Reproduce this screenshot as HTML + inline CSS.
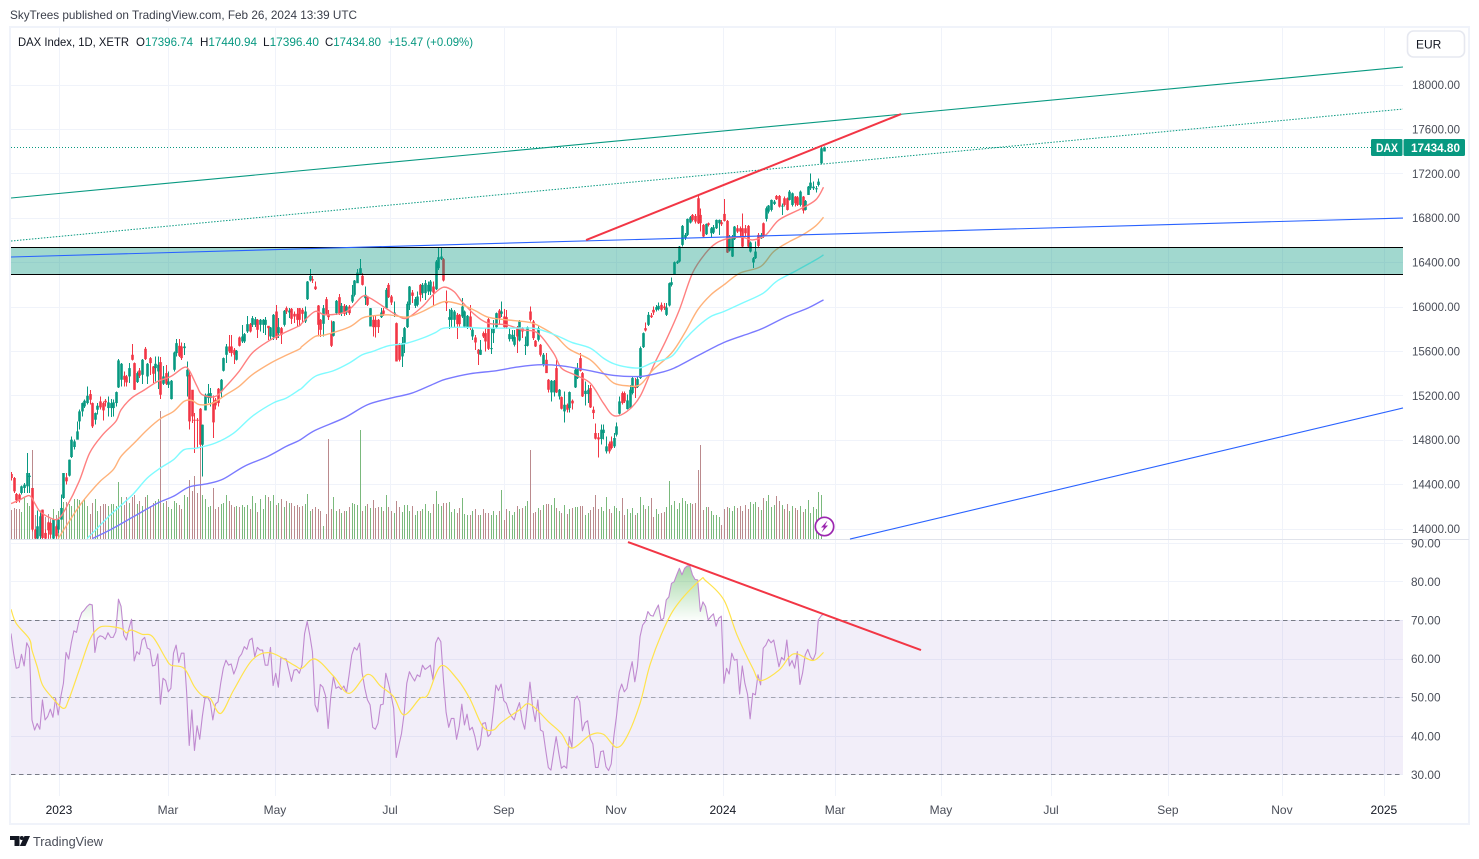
<!DOCTYPE html>
<html lang="en">
<head>
<meta charset="utf-8">
<title>DAX Index, 1D, XETR</title>
<style>
html,body{margin:0;padding:0;background:#fff;width:1479px;height:859px;overflow:hidden}
svg{display:block;font-family:"Liberation Sans",sans-serif}
text{font-family:"Liberation Sans",sans-serif}
</style>
</head>
<body>
<svg id="chart" xmlns="http://www.w3.org/2000/svg" width="1479" height="859" viewBox="0 0 1479 859">
  <defs>
    <clipPath id="mainClip"><rect x="11" y="28" width="1392" height="511"/></clipPath>
    <clipPath id="rsiClip"><rect x="11" y="540" width="1392" height="256"/></clipPath>
    <clipPath id="overClip"><rect x="11" y="540" width="1392" height="80"/></clipPath>
    <linearGradient id="overGrad" gradientUnits="userSpaceOnUse" x1="0" y1="566" x2="0" y2="620">
      <stop offset="0" stop-color="#4caf50" stop-opacity="0.5"/>
      <stop offset="1" stop-color="#4caf50" stop-opacity="0.02"/>
    </linearGradient>
  </defs>
  <rect x="0" y="0" width="1479" height="859" fill="#ffffff"/>
  <text x="10" y="19" font-size="12" fill="#3a3e4a" textLength="347" lengthAdjust="spacingAndGlyphs">SkyTrees published on TradingView.com, Feb 26, 2024 13:39 UTC</text>
  <rect x="10" y="27" width="1459" height="797" fill="none" stroke="#f0f3fa" stroke-width="2"/>
  <g id="gridLayer"></g>
  <g id="rsiBandLayer"></g>
  <g id="mainLayer" clip-path="url(#mainClip)"></g>
  <g id="rsiLayer" clip-path="url(#rsiClip)"></g>
  <line x1="10" y1="539.5" x2="1469" y2="539.5" stroke="#e0e3eb" stroke-width="1"/>
  <g id="overlayLayer"></g>
  <g id="axisLayer"></g>

  <text x="18" y="46" font-size="12" fill="#131722" textLength="111" lengthAdjust="spacingAndGlyphs">DAX Index, 1D, XETR</text>
  <g font-size="12">
    <text x="136" y="46" fill="#131722" textLength="57" lengthAdjust="spacingAndGlyphs">O<tspan fill="#089981">17396.74</tspan></text>
    <text x="200" y="46" fill="#131722" textLength="57" lengthAdjust="spacingAndGlyphs">H<tspan fill="#089981">17440.94</tspan></text>
    <text x="263" y="46" fill="#131722" textLength="56" lengthAdjust="spacingAndGlyphs">L<tspan fill="#089981">17396.40</tspan></text>
    <text x="325" y="46" fill="#131722" textLength="56" lengthAdjust="spacingAndGlyphs">C<tspan fill="#089981">17434.80</tspan></text>
    <text x="388" y="46" fill="#089981" textLength="85" lengthAdjust="spacingAndGlyphs">+15.47 (+0.09%)</text>
  </g>

  <rect x="1407.5" y="31" width="57" height="26" rx="6" fill="#ffffff" stroke="#e6e8f0" stroke-width="1.6"/>
  <text x="1416" y="48.5" font-size="12" fill="#131722">EUR</text>

  <g>
    <rect x="1371" y="139" width="31.5" height="17" rx="1.5" fill="#089981"/>
    <text x="1376" y="152" font-size="12" font-weight="bold" fill="#ffffff" textLength="22" lengthAdjust="spacingAndGlyphs">DAX</text>
    <rect x="1403.5" y="139" width="61.5" height="17" rx="1.5" fill="#089981"/>
    <text x="1411" y="152" font-size="12" font-weight="bold" fill="#ffffff" textLength="49" lengthAdjust="spacingAndGlyphs">17434.80</text>
  </g>

  <g>
    <circle cx="824.5" cy="526.5" r="9.2" fill="#ffffff" stroke="#9c27b0" stroke-width="1.7"/>
    <polygon points="827.5,520.5 821,527.5 824,527.5 821.5,532.5 828,525.5 825,525.5" fill="#9c27b0"/>
  </g>

  <g>
    <polygon points="10,836 19.5,836 19.5,846 14.5,846 14.5,840 10,840" fill="#131722"/>
    <circle cx="21.8" cy="838" r="2" fill="#131722"/>
    <polygon points="24.5,836 30,836 25.5,846 19.8,846" fill="#131722"/>
    <text x="33" y="846" font-size="13" fill="#4a4e59" textLength="70" lengthAdjust="spacingAndGlyphs">TradingView</text>
  </g>
</svg>

<script>
const candleOpen = [
14491,14455,14311,14305,14320,14365,14380,14464,14365,13990,
13909,13930,14170,13960,14056,14050,13909,14020,13990,14080,
14275,14461,14476,14644,14734,14800,14965,15055,15100,15130,
15211,15130,14980,15070,15145,15130,15151,15085,15085,15085,
15130,15271,15340,15376,15370,15370,15565,15490,15319,15424,
15385,15619,15370,15535,15460,15445,15415,15499,15304,15400,
15295,15166,15430,15580,15646,15640,15625,15370,15385,15250,
14980,14980,15079,14755,15064,15175,15175,15139,15160,15259,
15235,15421,15565,15640,15640,15610,15520,15721,15685,15685,
15775,15841,15835,15835,15880,15835,15835,15835,15826,15730,
15724,15955,15760,15805,15835,15985,15946,15979,15934,15934,
15985,15970,15865,16066,16234,16246,16180,16009,15880,15844,
16066,15934,15760,15736,15940,16084,15940,16006,15946,16000,
16045,16105,16210,16291,16276,16075,16084,15820,15880,15880,
15880,15904,15964,15985,16195,16090,15934,15850,15655,15550,
15670,15814,16015,16126,16006,16015,16195,16120,16120,16135,
16135,16180,16156,16345,16426,16426,16045,15880,15880,15880,
15925,15925,15910,15820,15814,15910,15730,15721,15610,15565,
15760,15760,15886,15619,15760,15814,15964,15934,15910,15904,
15706,15706,15655,15814,15694,15805,15646,15646,15955,15865,
15691,15700,15655,15475,15520,15340,15226,15226,15445,15190,
15184,15055,15115,15085,15151,15271,15355,15535,15400,15211,
15211,15265,15070,14860,14821,14806,14860,14695,14764,14785,
14740,14845,15034,15220,15220,15076,15085,15220,15286,15274,
15355,15634,15805,15835,15919,15970,15970,15976,16015,16000,
15925,16009,16195,16291,16390,16405,16555,16615,16645,16756,
16825,16816,16975,16825,16735,16651,16750,16660,16666,16705,
16750,16759,16834,16771,16504,16450,16606,16705,16705,16705,
16705,16726,16495,16396,16435,16645,16615,16750,16789,16855,
16870,16924,16996,16996,16900,16975,16975,16960,16915,16990,
16984,16915,16990,16870,17005,17065,17065,17056,17095,17290,
17396.74];

const candleHigh = [
14509,14464,14320,14314,14386,14410,14680,14500,14365,13996,
14164,14164,14170,13990,14065,14065,14086,14035,14095,14305,
14500,14500,14620,14830,14800,14965,15070,15136,15160,15280,
15250,15136,15046,15130,15190,15145,15166,15190,15166,15160,
15235,15526,15490,15415,15385,15490,15664,15496,15415,15445,
15526,15634,15490,15544,15466,15550,15550,15544,15466,15475,
15415,15340,15595,15709,15706,15676,15670,15505,15430,15250,
15040,14995,15085,14935,15214,15304,15265,15196,15175,15265,
15346,15541,15664,15745,15745,15625,15610,15730,15835,15760,
15916,15850,15916,15904,15886,15889,15886,15904,15826,15814,
15934,16015,15895,15814,15970,16000,15985,15985,15955,15985,
15985,15985,16000,16231,16336,16276,16225,16015,15886,16015,
16084,15970,15874,15871,16060,16114,16030,16024,16015,16015,
16195,16240,16336,16429,16300,16180,16090,15985,15925,15916,
15886,15985,15985,16165,16210,16105,16045,15856,15670,15724,
15814,16045,16186,16150,16084,16135,16204,16210,16240,16225,
16240,16225,16420,16525,16525,16435,16144,15976,15985,15970,
15940,15934,16075,15964,15925,16015,15805,15745,15616,15700,
15775,15805,15895,15805,15880,15946,15976,16045,15979,15970,
15805,15790,15790,15826,15880,15814,15730,15820,16000,15880,
15700,15820,15664,15580,15580,15346,15340,15340,15520,15256,
15190,15235,15124,15235,15160,15445,15490,15580,15409,15325,
15295,15295,15100,14944,14860,14935,14935,14830,14785,14830,
14860,14956,15190,15235,15235,15205,15295,15364,15355,15364,
15640,15766,15856,15949,15940,16000,16015,16036,16036,16030,
16030,16216,16261,16405,16414,16546,16735,16660,16795,16816,
16834,16834,16996,16885,16744,16750,16756,16714,16735,16786,
16786,16780,16969,16780,16645,16645,16726,16735,16720,16840,
16735,16735,16585,16444,16585,16660,16660,16756,16900,16915,
16966,16960,17005,17005,16930,16990,16984,17050,17026,16996,
16996,17044,16996,16960,17086,17200,17125,17086,17155,17440,
17440.94];

const candleLow = [
14434,14320,14230,14236,14305,14320,14320,14320,13975,13900,
13900,13900,13900,13900,13909,13915,13900,13909,13960,14080,
14266,14395,14470,14635,14710,14800,14890,15010,15085,15115,
15115,14905,14935,15025,15070,14974,15100,15010,15004,15010,
15100,15265,15280,15280,15280,15310,15514,15250,15310,15355,
15304,15520,15304,15385,15310,15325,15256,15166,15295,15295,
15265,15160,15415,15550,15544,15520,15565,15190,14890,14950,
14680,14725,14710,14470,15064,15130,15100,14815,15070,15100,
15175,15415,15490,15580,15550,15484,15514,15640,15670,15670,
15760,15766,15814,15814,15715,15775,15760,15745,15700,15700,
15700,15700,15715,15664,15820,15934,15895,15844,15850,15820,
15820,15850,15850,16060,16225,16210,16150,15730,15724,15730,
15928,15880,15634,15730,15925,15925,15916,15916,15925,15925,
16030,16090,16210,16285,16189,16015,16006,15820,15730,15721,
15760,15895,15916,15976,16075,16015,15904,15505,15505,15454,
15580,15805,15970,16030,15985,16000,16045,16075,16060,16105,
16105,16006,16150,16330,16420,16225,15961,15796,15805,15805,
15709,15820,15895,15805,15796,15790,15700,15610,15475,15565,
15715,15595,15610,15574,15670,15805,15835,15904,15805,15796,
15685,15685,15640,15580,15685,15715,15565,15640,15865,15700,
15634,15685,15550,15460,15400,15226,15145,15190,15220,15160,
15070,14956,15046,15046,15070,15265,15346,15415,15184,15109,
15130,15085,14986,14800,14641,14755,14800,14674,14674,14710,
14725,14830,15025,15115,15130,15070,15076,15205,15175,15265,
15346,15625,15775,15826,15895,15925,15955,15964,15955,15970,
15916,16000,16180,16285,16384,16396,16540,16600,16636,16750,
16765,16750,16744,16675,16624,16645,16720,16624,16654,16696,
16645,16726,16765,16480,16495,16444,16600,16660,16630,16534,
16630,16525,16486,16345,16426,16525,16606,16615,16765,16840,
16855,16915,16960,16894,16825,16900,16864,16954,16900,16900,
16906,16900,16840,16864,17005,17050,17050,17026,17080,17284,
17396.40];

const candleClose = [
14455,14335,14254,14260,14380,14395,14500,14476,13990,13909,
14020,14110,13915,13909,13984,13945,14080,13930,14080,14185,
14500,14425,14620,14800,14785,14875,15055,15130,15151,15196,
15160,14920,15040,15106,15091,15064,15136,15136,15130,15136,
15229,15514,15484,15340,15316,15445,15520,15250,15400,15376,
15520,15526,15484,15490,15394,15484,15475,15205,15370,15304,
15325,15331,15586,15670,15556,15535,15640,15430,14965,15010,
14971,14971,14755,14935,15205,15214,15220,14956,15109,15130,
15340,15535,15640,15595,15580,15565,15601,15646,15730,15751,
15841,15775,15895,15886,15790,15880,15880,15880,15805,15811,
15925,15715,15814,15745,15961,15955,15964,15889,15910,15880,
15880,15934,15955,16225,16276,16234,16156,15835,15790,15985,
15934,15904,15646,15865,16051,15934,16006,15934,16000,15940,
16105,16234,16306,16345,16195,16105,16015,15985,15814,15814,
15814,15946,15934,16150,16084,16036,15946,15505,15520,15670,
15805,16024,16180,16096,16066,16090,16105,16195,16210,16195,
16225,16126,16405,16444,16450,16234,16030,15904,15970,15955,
15841,15841,16000,15955,15916,15814,15790,15676,15574,15610,
15730,15685,15619,15625,15805,15940,15895,15955,15814,15814,
15751,15745,15724,15730,15865,15775,15655,15814,15880,15715,
15640,15805,15565,15565,15400,15250,15331,15331,15226,15250,
15079,15115,15070,15229,15127,15430,15445,15421,15190,15241,
15250,15091,15040,14809,14803,14890,14890,14740,14695,14725,
14815,14920,15145,15130,15145,15154,15250,15355,15265,15346,
15625,15760,15784,15925,15904,15946,15994,16006,15970,15985,
15991,16210,16219,16399,16405,16540,16726,16645,16789,16804,
16780,16765,16750,16750,16630,16744,16735,16705,16714,16780,
16780,16741,16771,16486,16630,16615,16720,16675,16675,16540,
16660,16540,16576,16435,16495,16546,16645,16630,16885,16909,
16960,16945,16966,16900,16909,16915,16870,17035,17020,16930,
16915,17035,16864,16951,17080,17116,17080,17065,17125,17425,
17434.80];

const volumes = [
29,31,30,30,27,41,36,33,89,24,
27,22,27,22,25,20,30,24,28,33,
37,37,35,33,40,40,39,38,40,33,
25,36,40,28,33,35,35,33,35,35,
33,57,42,34,42,36,42,44,35,38,
33,42,44,33,36,38,40,128,36,38,
32,30,38,36,34,30,44,42,59,48,
63,46,100,44,40,32,33,51,30,32,
35,36,44,38,34,32,33,32,34,32,
34,30,43,36,27,40,30,44,42,38,
44,34,36,40,32,38,36,36,33,34,
32,33,35,45,28,30,32,30,28,13,
25,100,30,42,28,30,26,28,28,32,
36,35,34,109,28,33,35,31,39,31,
32,32,28,44,32,28,26,38,32,27,
34,34,28,33,24,28,28,30,35,28,
26,35,48,35,33,36,36,37,27,30,
26,31,41,25,24,24,28,30,24,24,
30,26,26,24,28,24,28,49,19,30,
28,24,27,33,30,31,33,38,89,26,
27,31,29,34,35,35,34,41,31,28,
26,34,25,30,31,32,32,33,33,24,
26,29,32,44,30,32,28,42,30,26,
33,31,28,41,24,30,26,31,24,26,
42,34,30,33,41,22,30,25,26,27,
32,58,34,38,30,36,41,38,35,36,
35,36,69,94,29,32,32,28,24,24,
22,14,30,32,31,28,33,31,33,28,
34,30,37,35,37,32,29,41,38,44,
32,34,43,38,34,30,35,28,33,31,
29,33,27,30,39,26,32,30,47,44,
0];

const rsiValues = [
66.5,61.4,57.5,57.7,61.1,58.1,64.1,62.7,44.1,41.5,
43.2,41.7,49.3,44.1,45,46.9,44.8,49.7,45.4,50.1,
53.6,61.6,59.9,64,67.2,66.8,70,71.9,72.6,73.5,
74.1,73.9,61.6,65.3,65.9,65.7,65,66.7,65.5,65.5,
67,75.4,73.5,66.1,64.8,67.8,70.2,59.4,61.8,61.1,
64.8,65.5,62.7,62.4,58.1,58.3,61.2,48.2,54.9,54.3,
51.4,52.3,61.4,63.5,59,61.4,61.4,51.4,37.5,46.7,
36.2,42.6,39.1,45,49.7,50,48.8,44.1,48.2,48.8,
53.6,57.5,59.6,58.3,58.6,56,57.7,60.3,61.2,63.1,
62.4,64.8,65.3,60.5,62.9,62.2,62.2,58.3,58.3,62.9,
53,56.2,52.6,60.3,60,59.9,57,54.1,57,57.2,
56.2,58.3,66.4,69.6,66.1,61.8,48,46.2,53.3,52.6,
50.4,41.9,50.1,55.3,52.3,52.7,52,52.9,51.2,55.8,
60.9,62.9,62.2,64,56.2,52.3,49.3,48,42.2,41.7,
43.2,48,48.2,56.2,53.6,50.6,47.1,34.4,37.6,40.6,
45.8,53.6,56.6,55.3,54.2,55.8,
55.3,58.3,57.2,57.7,58.3,54.5,64,65.5,64.4,54.5,
46.1,42.2,44.5,44.5,39.1,42.4,48.2,42.8,45.6,41.5,
42.2,39.8,36.3,37.6,43.2,43.4,39.8,40.5,46.3,53.1,
51.7,53.4,49.1,48.4,46.1,45,44.1,46.7,48.6,44.1,
41.7,47.5,53.9,47.5,43.7,49.3,41.5,41.1,36.3,31.8,
31.1,35.5,39.8,35.5,31.6,32.2,31.6,39.8,37,49.3,
50.3,48.8,41.3,43.4,43.9,39.3,37.9,31.8,31.8,35.9,
36.1,32,31,32.7,39.8,45,51.4,53.4,51.4,52.3,
56.2,59.2,54,57.9,65.7,68.7,69.6,72.2,71.2,71,
72.6,73.9,70,70.4,75.2,76,79.5,79.9,81.7,83.4,
81.7,83.4,84,84,81.7,80.5,80.4,72.2,74.7,73.5,
70,70.9,71.6,68.4,70.4,71,53.6,57.5,56,61.4,
59.6,59.8,50.8,58.1,53.6,50.8,44.4,51,50.6,55.8,
53.2,62.7,63.5,65,64.1,64.8,61.4,57.9,60.3,59.6,
64.8,58.1,59.5,57.5,61.8,53.3,56.2,60.9,62.4,60.5,
59.6,61.4,70,71,71.6];

const rsiMaBars = [0,2,7,8,10,12,16,20,22,26,30,33,36,42,44,46,50,54,59,61,66,70,73,76,80,85,92,99,108,111,116,123,129,136,141,146,150,156,159,164,170,175,180,184,187,194,198,205,210,214,221,226,231,235,240,244,250,255,263,265,272,277,283,286,293,297,300,306,310];
const rsiMaValues = [72.8,69.1,65.1,62.2,57.9,53.2,49.7,47.1,49.3,57,64.8,67.7,68.4,67.8,66.7,67.4,66.3,65.7,60.1,58.3,57.5,52.7,50.4,49.7,45.8,51.9,59.6,61.5,58.3,57.5,59.9,55.5,51,55.9,52.9,50.1,45.4,49.7,50.6,58.1,54.9,49.7,42.4,41.5,43.4,46.7,48.2,43.7,40.6,36.8,40.2,40.4,37,39.8,48.4,58.8,69.1,74.7,80.4,80.2,75.2,66.1,57.5,54.3,57,60.5,61.2,59.5,61.6];

const redMaBars = [0,3,7,9,11,15,18,21,26,30,35,40,42,46,51,56,61,66,68,71,73,78,82,87,92,98,104,110,111,116,120,128,134,137,143,147,151,157,161,165,169,172,177,182,189,195,201,207,210,215,221,226,230,235,240,245,250,255,260,265,269,274,279,283,288,293,301,307,310];
const redMaValues = [14224,14254,14296,14230,14155,14095,14086,14185,14425,14680,14845,14965,15070,15175,15250,15325,15370,15451,15424,15280,15205,15190,15280,15415,15580,15685,15760,15826,15850,15955,15925,15955,16090,16075,15985,15925,15895,16000,16105,16174,16135,16045,15925,15850,15835,15790,15760,15580,15445,15385,15310,15130,15016,15055,15190,15460,15700,15970,16300,16480,16570,16615,16624,16600,16645,16780,16876,16960,17074];

const orangeMaBars = [18,21,26,30,34,39,42,47,52,57,62,66,69,72,77,82,87,92,99,104,110,111,116,120,129,134,138,144,151,157,162,166,172,177,182,189,198,203,208,213,221,226,230,235,240,245,252,257,262,267,272,278,286,291,297,302,307,310];
const orangeMaValues = [13909,14020,14200,14320,14425,14530,14650,14770,14890,14989,15055,15145,15154,15115,15130,15205,15280,15385,15490,15550,15616,15640,15730,15745,15814,15895,15916,15925,15904,15955,16015,16045,16015,15964,15904,15880,15856,15805,15730,15616,15520,15400,15310,15286,15295,15430,15580,15760,15970,16105,16195,16300,16360,16495,16585,16645,16726,16804];

const cyanMaBars = [29,33,38,43,47,52,57,62,66,71,78,85,92,100,105,110,111,116,123,129,134,138,144,151,157,162,165,172,180,189,199,204,209,214,221,226,230,235,240,245,252,257,262,267,272,279,287,292,299,307,310];
const cyanMaValues = [13909,14005,14125,14230,14320,14455,14545,14620,14710,14725,14770,14860,15010,15130,15175,15250,15265,15370,15421,15490,15565,15595,15646,15670,15715,15766,15805,15814,15805,15805,15805,15775,15730,15676,15625,15535,15484,15454,15448,15496,15550,15700,15820,15910,15955,16030,16120,16225,16315,16420,16465];

const blueMaBars = [31,38,47,56,62,68,75,81,89,98,105,110,116,127,136,145,153,162,166,175,185,193,201,210,221,230,240,247,253,262,272,282,287,296,304,310];
const blueMaValues = [13909,13990,14110,14230,14290,14374,14404,14446,14560,14650,14740,14794,14884,14995,15115,15175,15220,15310,15346,15394,15421,15454,15475,15466,15421,15379,15370,15400,15445,15556,15676,15760,15805,15910,15985,16060];

const priceTicks = [18000,17600,17200,16800,16400,16000,15600,15200,14800,14400,14000];
const rsiTicks = [90,80,70,60,50,40,30];
const timeTickLabels = ['2023','Mar','May','Jul','Sep','Nov','2024','Mar','May','Jul','Sep','Nov','2025'];
const timeTickBars = [18.3,59.9,100.7,144.6,188,230.8,271.6,314.4,354.8,396.8,441.4,484.9,523.8];
const timeTickIsYear = [true,false,false,false,false,false,true,false,false,false,false,false,true];
const lastClose = 17434.80;
const zonePrices = [16532,16293];
const rsiBandLevels = [70,50,30];
const greenChannelBars = [0,531.1];
const greenChannelPrices = [16977.5,18157.7];
const greenDottedBars = [0,531.1];
const greenDottedPrices = [16590,17779];
const redWedgeBars = [219.4,339.6];
const redWedgePrices = [16599,17734];
const blueFlatBars = [0,531.1];
const blueFlatPrices = [16446,16797];
const blueLowerBars = [320.1,531.1];
const blueLowerPrices = [13905,15086];
const rsiTrendBars = [235.4,347.2];
const rsiTrendValues = [90.2,62.2];

const SVG_NS = 'http://www.w3.org/2000/svg';
function xOf(i){ return 11 + i * 2.621; }
function yPrice(p){ return 84.5 + (18000 - p) * 0.111; }
function yRsi(v){ return 620 + (70 - v) * 3.86; }
function yVol(v){ return 539 - v; }
function mk(tag, parent, attrs){
  const node = document.createElementNS(SVG_NS, tag);
  for (const k in attrs) node.setAttribute(k, attrs[k]);
  parent.appendChild(node);
  return node;
}
function polyPoints(bars, vals, yFn){
  return bars.map(function(b, k){ return xOf(b).toFixed(2) + ',' + yFn(vals[k]).toFixed(2); }).join(' ');
}
function smoothPath(bars, vals, yFn){
  const pts = bars.map(function(b, k){ return [xOf(b), yFn(vals[k])]; });
  let d = 'M' + pts[0][0].toFixed(2) + ' ' + pts[0][1].toFixed(2);
  for (let k = 0; k < pts.length - 1; k++){
    const p0 = pts[Math.max(0, k - 1)];
    const p1 = pts[k];
    const p2 = pts[k + 1];
    const p3 = pts[Math.min(pts.length - 1, k + 2)];
    const c1x = p1[0] + (p2[0] - p0[0]) / 6;
    const c1y = p1[1] + (p2[1] - p0[1]) / 6;
    const c2x = p2[0] - (p3[0] - p1[0]) / 6;
    const c2y = p2[1] - (p3[1] - p1[1]) / 6;
    d += ' C' + c1x.toFixed(2) + ' ' + c1y.toFixed(2) + ' ' + c2x.toFixed(2) + ' ' + c2y.toFixed(2) + ' ' + p2[0].toFixed(2) + ' ' + p2[1].toFixed(2);
  }
  return d;
}
const gridLayer = document.getElementById('gridLayer');
const bandLayer = document.getElementById('rsiBandLayer');
const mainLayer = document.getElementById('mainLayer');
const rsiLayer = document.getElementById('rsiLayer');
const overlayLayer = document.getElementById('overlayLayer');
const axisLayer = document.getElementById('axisLayer');

// grid + axis labels
priceTicks.forEach(function(p){
  const y = Math.round(yPrice(p)) + 0.5;
  const gl = mk('line', gridLayer, {x1:11, x2:1403, y1:y, y2:y, stroke:'#f0f3fa', 'stroke-width':1});
  
  
  const t = mk('text', axisLayer, {x:1412, y:yPrice(p)+4.5, 'font-size':11.8, fill:'#4a4e59', textLength:48, lengthAdjust:'spacingAndGlyphs'});
  
  
  t.textContent = p.toFixed(2);
});
rsiTicks.forEach(function(v){
  const y = Math.round(yRsi(v)) + 0.5;
  const gl = mk('line', gridLayer, {x1:11, x2:1403, y1:y, y2:y, stroke:'#f0f3fa', 'stroke-width':1});
  
  
  const t = mk('text', axisLayer, {x:1411, y:yRsi(v)+4.5, 'font-size':11.8, fill:'#4a4e59'});
  
  
  t.textContent = v.toFixed(2);
});
timeTickBars.forEach(function(b, k){
  const x = Math.round(xOf(b)) + 0.5;
  const gl = mk('line', gridLayer, {x1:x, x2:x, y1:28, y2:796, stroke:'#f0f3fa', 'stroke-width':1});
  
  
  const t = mk('text', axisLayer, {x:xOf(b), y:814, 'font-size':12, 'text-anchor':'middle', fill: timeTickIsYear[k] ? '#131722' : '#4a4e59'});
  
  
  t.textContent = timeTickLabels[k];
});

// RSI band
const bandRect = mk('rect', bandLayer, {x:11, y:yRsi(rsiBandLevels[0]), width:1392, height:yRsi(rsiBandLevels[2]) - yRsi(rsiBandLevels[0]), fill:'#7e57c2', 'fill-opacity':0.1});



// volume
volumes.forEach(function(v, i){
  if (!v) return;
  const up = candleClose[i] >= candleOpen[i];
  const x = Math.round(xOf(i));
  const bar = mk('rect', mainLayer, {x:x, y:yVol(v), width:1, height:v, fill: up ? '#7ab97c' : '#bb8a8d', 'shape-rendering':'crispEdges'});
  
  
});

// candles
candleOpen.forEach(function(o, i){
  const c = candleClose[i];
  const up = c >= o;
  const col = up ? '#089981' : '#f23645';
  const x = Math.round(xOf(i));
  const top = yPrice(Math.max(o, c));
  const bot = yPrice(Math.min(o, c));
  const wick = mk('rect', mainLayer, {x:x, y:yPrice(candleHigh[i]), width:1, height:Math.max(1, yPrice(candleLow[i]) - yPrice(candleHigh[i])), fill:col, 'shape-rendering':'crispEdges'});
  
  
  const body = mk('rect', mainLayer, {x:x - 0.8, y:top, width:2.6, height:Math.max(1, bot - top), fill:col});
  
  
});

// moving averages
const redMa = mk('path', mainLayer, {d:smoothPath(redMaBars, redMaValues, yPrice), fill:'none', stroke:'#ff8080', 'stroke-width':1.4, 'stroke-linejoin':'round'});


const orangeMa = mk('path', mainLayer, {d:smoothPath(orangeMaBars, orangeMaValues, yPrice), fill:'none', stroke:'#ffb27a', 'stroke-width':1.4, 'stroke-linejoin':'round'});


const cyanMa = mk('path', mainLayer, {d:smoothPath(cyanMaBars, cyanMaValues, yPrice), fill:'none', stroke:'#7ffbff', 'stroke-width':1.4, 'stroke-linejoin':'round'});


const blueMa = mk('path', mainLayer, {d:smoothPath(blueMaBars, blueMaValues, yPrice), fill:'none', stroke:'#7a7aff', 'stroke-width':1.4, 'stroke-linejoin':'round'});



// zone rectangle
const zone = mk('rect', mainLayer, {x:11, y:yPrice(zonePrices[0]), width:1392, height:yPrice(zonePrices[1]) - yPrice(zonePrices[0]), fill:'#089981', 'fill-opacity':0.38});


zonePrices.forEach(function(p){
  const y = Math.round(yPrice(p)) + 0.5;
  const edge = mk('line', mainLayer, {x1:11, x2:1403, y1:y, y2:y, stroke:'#000000', 'stroke-width':1});
  
  
});

// last price line
const lastY = Math.round(yPrice(lastClose)) + 0.5;
const lastLine = mk('line', mainLayer, {x1:11, x2:1403, y1:lastY, y2:lastY, stroke:'#089981', 'stroke-width':1, 'stroke-dasharray':'1 2'});



// drawn trend lines on price pane
const channelLine = mk('line', mainLayer, {x1:xOf(greenChannelBars[0]), y1:yPrice(greenChannelPrices[0]), x2:xOf(greenChannelBars[1]), y2:yPrice(greenChannelPrices[1]), stroke:'#089981', 'stroke-width':1.1});


const dottedLine = mk('line', mainLayer, {x1:xOf(greenDottedBars[0]), y1:yPrice(greenDottedPrices[0]), x2:xOf(greenDottedBars[1]), y2:yPrice(greenDottedPrices[1]), stroke:'#089981', 'stroke-width':1, 'stroke-dasharray':'1.5 1.5'});


const flatLine = mk('line', mainLayer, {x1:xOf(blueFlatBars[0]), y1:yPrice(blueFlatPrices[0]), x2:xOf(blueFlatBars[1]), y2:yPrice(blueFlatPrices[1]), stroke:'#2962ff', 'stroke-width':1.1});


const lowerLine = mk('line', overlayLayer, {x1:xOf(blueLowerBars[0]), y1:yPrice(blueLowerPrices[0]), x2:xOf(blueLowerBars[1]), y2:yPrice(blueLowerPrices[1]), stroke:'#2962ff', 'stroke-width':1.1});


const wedgeLine = mk('line', mainLayer, {x1:xOf(redWedgeBars[0]), y1:yPrice(redWedgePrices[0]), x2:xOf(redWedgeBars[1]), y2:yPrice(redWedgePrices[1]), stroke:'#f23645', 'stroke-width':2});



// RSI pane
rsiBandLevels.forEach(function(v, k){
  const y = Math.round(yRsi(v)) + 0.5;
  const l = mk('line', rsiLayer, {x1:11, x2:1403, y1:y, y2:y, stroke:'#787b86', 'stroke-width':1, 'stroke-dasharray':'4.5 3.5', 'stroke-opacity': k === 1 ? 0.6 : 1});
  
  
});
const rsiBars = rsiValues.map(function(v, i){ return i; });
const y70 = yRsi(70);
let fillD = 'M' + xOf(0).toFixed(2) + ' ' + y70.toFixed(2);
rsiValues.forEach(function(v, i){ fillD += ' L' + xOf(i).toFixed(2) + ' ' + yRsi(v).toFixed(2); });
fillD += ' L' + xOf(rsiValues.length - 1).toFixed(2) + ' ' + y70.toFixed(2) + ' Z';
const overGroup = mk('g', rsiLayer, {'clip-path':'url(#overClip)'});


const overFill = mk('path', overGroup, {d:fillD, fill:'url(#overGrad)'});


const rsiLine = mk('polyline', rsiLayer, {points:polyPoints(rsiBars, rsiValues, yRsi), fill:'none', stroke:'#c08ad0', 'stroke-width':1.1, 'stroke-linejoin':'round'});


const rsiMaLine = mk('path', rsiLayer, {d:smoothPath(rsiMaBars, rsiMaValues, yRsi), fill:'none', stroke:'#ffe34d', 'stroke-width':1.2, 'stroke-linejoin':'round'});


const rsiTrend = mk('line', rsiLayer, {x1:xOf(rsiTrendBars[0]), y1:yRsi(rsiTrendValues[0]), x2:xOf(rsiTrendBars[1]), y2:yRsi(rsiTrendValues[1]), stroke:'#f23645', 'stroke-width':2});


</script>
</body>
</html>
